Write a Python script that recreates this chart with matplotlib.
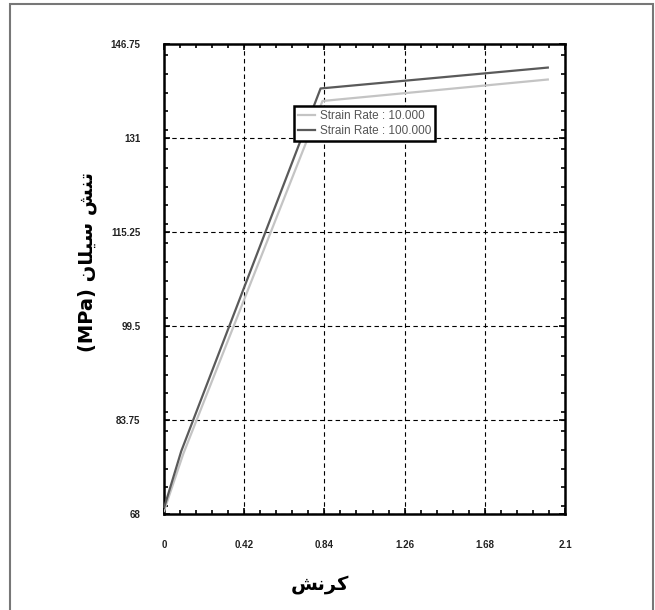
import matplotlib
matplotlib.use("Agg")
import matplotlib.pyplot as plt
from matplotlib.patches import Rectangle
from matplotlib.ticker import MultipleLocator

# ---------------- data ----------------
strain_10 = [0.0, 0.10, 0.83, 2.01]
stress_10 = [68.5, 78.0, 137.2, 140.8]

strain_100 = [0.0, 0.09, 0.82, 2.01]
stress_100 = [69.0, 78.5, 139.3, 142.8]

labels = ["Strain Rate : 10.000", "Strain Rate : 100.000"]
xticks = [0, 0.42, 0.84, 1.26, 1.68, 2.1]
xticklabels = ["0", "0.42", "0.84", "1.26", "1.68", "2.1"]
yticks = [68, 83.75, 99.5, 115.25, 131, 146.75]
yticklabels = ["68", "83.75", "99.5", "115.25", "131", "146.75"]

# Persian labels, pre-shaped (presentation forms, visual order)
xlabel_fa = "\uFEB6\uFEE7\uFEAE\uFB90"                       # کرنش
ylabel_fa = "(MPa) \uFEE5\uFE8E\uFEE0\uFEF4\uFEB3 \uFEB6\uFEE8\uFE97"  # تنش سیلان (MPa)

LIGHT = "#c4c4c4"
DARK = "#5a5a5a"

fig = plt.figure(figsize=(6.55, 6.10), dpi=100)
ax = fig.add_axes([164 / 655, 96 / 610, 401 / 655, 470 / 610])

ax.plot(strain_10, stress_10, color=LIGHT, lw=1.6, label=labels[0], zorder=3)
ax.plot(strain_100, stress_100, color=DARK, lw=1.6, label=labels[1], zorder=4)

ax.set_xlim(0, 2.1)
ax.set_ylim(68, 146.75)
ax.set_xticks(xticks)
ax.set_xticklabels(xticklabels)
ax.set_yticks(yticks)
ax.set_yticklabels(yticklabels)
ax.xaxis.set_minor_locator(MultipleLocator(0.084))
ax.yaxis.set_minor_locator(MultipleLocator(3.15))

for lab in ax.get_xticklabels() + ax.get_yticklabels():
    lab.set_family("Liberation Sans")
    lab.set_fontsize(7)
    lab.set_fontweight("bold")
    lab.set_color("#222222")

ax.tick_params(which="both", direction="in", top=True, right=True, width=1.2)
ax.tick_params(which="major", length=4)
ax.tick_params(which="minor", length=3)
ax.tick_params(axis="x", which="major", pad=19)
ax.tick_params(axis="y", which="major", pad=17)

for sp in ax.spines.values():
    sp.set_linewidth(1.8)

ax.grid(True, which="major", color="black", ls=(0, (4, 3)), lw=0.8, zorder=1)

leg = ax.legend(loc="upper left", bbox_to_anchor=(0.31, 0.88),
                prop={"family": "Liberation Sans", "size": 8.5},
                handlelength=1.4, handletextpad=0.4, borderpad=0.35,
                labelspacing=0.2, fancybox=False, framealpha=1)
leg.get_frame().set_edgecolor("black")
leg.get_frame().set_linewidth(1.8)
for t in leg.get_texts():
    t.set_color("#555555")

fig.text(320 / 655, 1 - 585 / 610, xlabel_fa, family="DejaVu Sans",
         fontsize=14, fontweight="bold", ha="center", va="center")
fig.text(87 / 655, 1 - 262 / 610, ylabel_fa, family="DejaVu Sans",
         fontsize=14, fontweight="bold", ha="center", va="center",
         rotation=90)

# outer frame of the original figure
fig.patches.append(Rectangle((10 / 655, -0.05), 643 / 655, 1.05 - 4 / 610,
                             transform=fig.transFigure, fill=False,
                             edgecolor="#777777", lw=1.5))

fig.savefig("out.png", dpi=100)
